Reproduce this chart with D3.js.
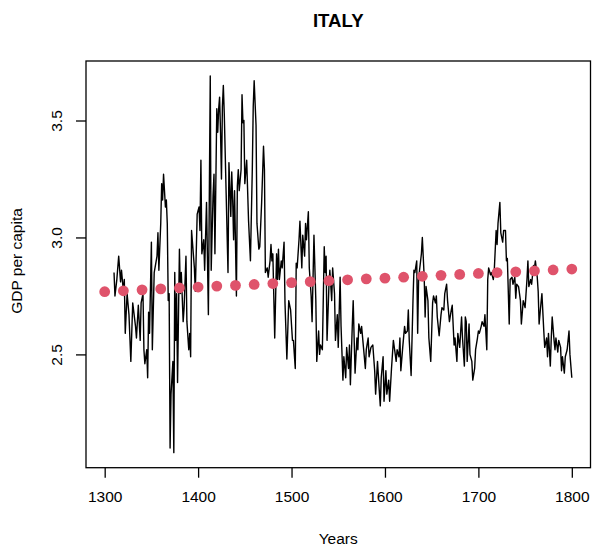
<!DOCTYPE html>
<html>
<head>
<meta charset="utf-8">
<script src="https://cdn.jsdelivr.net/npm/d3@7"></script>
<style>
  body { margin: 0; background: #fff; }
  svg text { font-family: "Liberation Sans", Arial, Helvetica, sans-serif; }
</style>
</head>
<body>
<script>
// annual GDP per capita (local peaks and troughs)
var years = [1310,1311,1313,1315,1317,1318,1320,1321,1322,1324,1326,1328,1330,1333,1334,1336,1338,1339,1341,1342,1343,1345,1346,1347,1348,1350,1351,1353,1356,1357,1358,1360,1361,1362,1363,1365,1366,1367,1368,1369,1370,1371,1373,1374,1375,1376,1377,1378,1380,1381,1382,1384,1385,1387,1388,1390,1391,1392,1393,1396,1397,1399,1401,1402,1403,1404,1406,1407,1409,1411,1413,1414,1416,1417,1418,1420,1421,1422,1423,1424,1425,1426,1427,1428,1430,1432,1433,1435,1436,1437,1438,1439,1441,1442,1443,1444,1446,1447,1448,1449,1450,1452,1454,1456,1458,1459,1460,1462,1463,1465,1466,1468,1470,1471,1472,1474,1475,1477,1478,1479,1480,1482,1484,1485,1486,1487,1489,1490,1492,1493,1495,1497,1499,1501,1502,1504,1505,1506,1508,1509,1511,1512,1514,1515,1516,1518,1519,1521,1522,1524,1526,1527,1529,1530,1531,1533,1535,1536,1537,1538,1540,1541,1543,1544,1546,1547,1549,1550,1552,1553,1555,1556,1558,1559,1561,1562,1563,1565,1566,1567,1568,1570,1571,1572,1574,1575,1577,1579,1580,1582,1583,1585,1587,1589,1590,1592,1594,1595,1596,1598,1599,1601,1602,1604,1605,1607,1609,1610,1612,1613,1615,1616,1617,1619,1621,1622,1624,1625,1626,1628,1630,1631,1632,1634,1635,1636,1637,1639,1640,1642,1643,1644,1646,1647,1649,1651,1652,1654,1655,1656,1658,1660,1661,1663,1664,1666,1667,1669,1671,1672,1674,1675,1677,1678,1680,1682,1683,1685,1686,1687,1688,1690,1691,1693,1694,1696,1697,1699,1700,1701,1703,1704,1706,1707,1709,1710,1711,1713,1714,1716,1717,1719,1720,1721,1723,1724,1726,1727,1729,1730,1731,1733,1734,1736,1737,1739,1740,1741,1743,1745,1746,1748,1750,1752,1753,1754,1756,1757,1759,1760,1761,1763,1764,1765,1767,1768,1770,1771,1773,1774,1775,1777,1778,1779,1781,1782,1783,1785,1786,1788,1789,1790,1792,1793,1795,1796,1797,1798,1800];
var gdp = [2.85,2.75,2.82,2.92,2.81,2.86,2.77,2.82,2.59,2.76,2.67,2.47,2.72,2.62,2.57,2.71,2.56,2.72,2.76,2.52,2.46,2.52,2.40,2.68,2.59,2.98,2.52,2.85,2.92,3.02,2.86,3.06,3.23,3.16,3.27,3.13,3.16,3.06,2.73,2.76,2.10,2.33,2.47,2.08,2.85,2.56,2.76,2.38,2.95,2.76,2.85,2.64,2.70,2.92,2.64,2.52,2.59,2.49,3.03,2.87,2.77,3.10,3.13,3.03,3.33,2.93,2.99,2.86,3.15,2.67,3.69,2.86,3.18,3.27,2.93,3.55,3.45,3.55,3.60,3.45,3.25,3.56,3.65,3.53,3.19,2.85,3.32,3.09,3.28,3.16,2.99,3.20,2.75,3.22,3.29,3.20,3.29,3.61,3.49,3.50,3.23,3.33,3.07,2.90,3.29,3.56,3.67,3.48,3.06,2.95,2.96,3.15,3.39,3.29,2.85,2.87,2.83,2.90,2.97,2.90,2.93,2.57,2.93,2.82,2.95,2.82,2.90,2.87,2.98,2.72,2.48,2.73,2.69,2.56,2.56,2.44,2.89,2.87,2.99,3.07,2.87,3.01,2.92,3.06,2.99,3.11,2.87,2.75,2.64,3.01,2.73,2.47,2.60,2.50,2.54,2.52,2.96,2.85,2.92,2.56,2.79,2.86,2.73,2.87,2.76,2.56,2.67,2.53,2.83,2.62,2.39,2.49,2.40,2.53,2.44,2.54,2.37,2.62,2.73,2.57,2.42,2.57,2.52,2.63,2.59,2.62,2.53,2.44,2.52,2.57,2.49,2.53,2.54,2.43,2.33,2.47,2.34,2.28,2.40,2.49,2.30,2.43,2.33,2.39,2.30,2.44,2.56,2.53,2.47,2.52,2.49,2.57,2.43,2.53,2.62,2.59,2.60,2.69,2.56,2.41,2.73,2.86,2.85,2.90,2.59,2.82,2.86,2.93,3.00,2.83,2.66,2.79,2.73,2.57,2.47,2.72,2.75,2.72,2.75,2.66,2.58,2.67,2.70,2.69,2.76,2.80,2.73,2.64,2.69,2.71,2.54,2.57,2.47,2.59,2.53,2.66,2.57,2.45,2.66,2.64,2.47,2.63,2.50,2.47,2.39,2.44,2.52,2.57,2.60,2.59,2.62,2.64,2.62,2.67,2.52,2.82,2.87,2.84,2.85,2.82,2.86,3.03,2.97,3.06,3.15,3.02,2.98,3.03,3.03,2.90,2.91,2.63,2.82,2.83,2.80,2.83,2.74,2.80,2.79,2.73,2.63,2.73,2.70,2.82,2.90,2.79,2.82,2.80,2.88,2.87,2.90,2.83,2.77,2.63,2.72,2.76,2.60,2.53,2.57,2.49,2.59,2.45,2.57,2.66,2.56,2.52,2.57,2.51,2.56,2.53,2.43,2.49,2.42,2.49,2.52,2.56,2.60,2.50,2.40];

// trend points every 20 years
var trendYears = [1300,1320,1340,1360,1380,1400,1420,1440,1460,1480,1500,1520,1540,1560,1580,1600,1620,1640,1660,1680,1700,1720,1740,1760,1780,1800];
var trend = [2.768,2.772,2.776,2.780,2.784,2.788,2.792,2.795,2.799,2.803,2.807,2.811,2.815,2.819,2.823,2.826,2.830,2.834,2.838,2.842,2.846,2.850,2.853,2.857,2.861,2.865];

var xTicks = [1300,1400,1500,1600,1700,1800];
var yTicks = [2.5,3.0,3.5];
var yTickLabels = ["2.5","3.0","3.5"];

var width = 592,
    height = 552;

// plot box (window.top is taken, so own names)
var box_l = 86, box_r = 590.5, box_t = 61, box_b = 467.7;
var fs = 15.5;

var svg = d3.select("body").append("svg")
    .attr("width", width)
    .attr("height", height);

// R style axis range: data range stretched by 4% each side
var xr = d3.extent(years.concat(trendYears)),
    yr = d3.extent(gdp.concat(trend));
var xpad = (xr[1] - xr[0]) * 0.04,
    ypad = (yr[1] - yr[0]) * 0.04;

var x = d3.scaleLinear()
    .domain([xr[0] - xpad, xr[1] + xpad])
    .range([box_l, box_r]);

var y = d3.scaleLinear()
    .domain([yr[0] - ypad, yr[1] + ypad])
    .range([box_b, box_t]);

var line = d3.line()
    .x(function(d) { return x(d[0]); })
    .y(function(d) { return y(d[1]); });

svg.append("path")
    .datum(years.map(function(yy, i) { return [yy, gdp[i]]; }))
    .attr("d", line)
    .attr("fill", "none")
    .attr("stroke", "#000")
    .attr("stroke-width", 1.4)
    .attr("stroke-linejoin", "round");

svg.selectAll("circle.trend")
    .data(trendYears)
  .enter().append("circle")
    .attr("class", "trend")
    .attr("cx", function(d) { return x(d); })
    .attr("cy", function(d, i) { return y(trend[i]); })
    .attr("r", 5.4)
    .attr("fill", "#DF536B");

// box
svg.append("rect")
    .attr("x", box_l)
    .attr("y", box_t)
    .attr("width", box_r - box_l)
    .attr("height", box_b - box_t)
    .attr("fill", "none")
    .attr("stroke", "#000")
    .attr("stroke-width", 1.3);

var xAxis = svg.append("g")
    .attr("transform", "translate(0," + box_b + ")")
    .call(d3.axisBottom(x).tickValues(xTicks).tickFormat(d3.format("d"))
        .tickSize(10).tickPadding(13));
xAxis.select(".domain").remove();
xAxis.selectAll("line").attr("stroke-width", 1.3);
xAxis.selectAll("text")
    .attr("font-size", fs)
    .attr("font-family", "Liberation Sans, Arial, sans-serif")
    .attr("fill", "#000");

var yAxis = svg.append("g")
    .attr("transform", "translate(" + box_l + ",0)")
    .call(d3.axisLeft(y).tickValues(yTicks)
        .tickFormat(function(d, i) { return yTickLabels[i]; })
        .tickSize(10));
yAxis.select(".domain").remove();
yAxis.selectAll("line").attr("stroke-width", 1.3);
yAxis.selectAll("text")
    .attr("x", null)
    .attr("dy", null)
    .attr("transform", "translate(-24,0) rotate(-90)")
    .attr("text-anchor", "middle")
    .attr("font-size", fs)
    .attr("font-family", "Liberation Sans, Arial, sans-serif")
    .attr("fill", "#000");

svg.append("text")
    .attr("x", (box_l + box_r) / 2)
    .attr("y", 27)
    .attr("text-anchor", "middle")
    .attr("font-size", 18.6)
    .attr("font-weight", "bold")
    .text("ITALY");

svg.append("text")
    .attr("x", (box_l + box_r) / 2)
    .attr("y", 544)
    .attr("text-anchor", "middle")
    .attr("font-size", fs)
    .text("Years");

svg.append("text")
    .attr("transform", "translate(21.5,261) rotate(-90)")
    .attr("text-anchor", "middle")
    .attr("font-size", fs)
    .text("GDP per capita");
</script>
</body>
</html>
